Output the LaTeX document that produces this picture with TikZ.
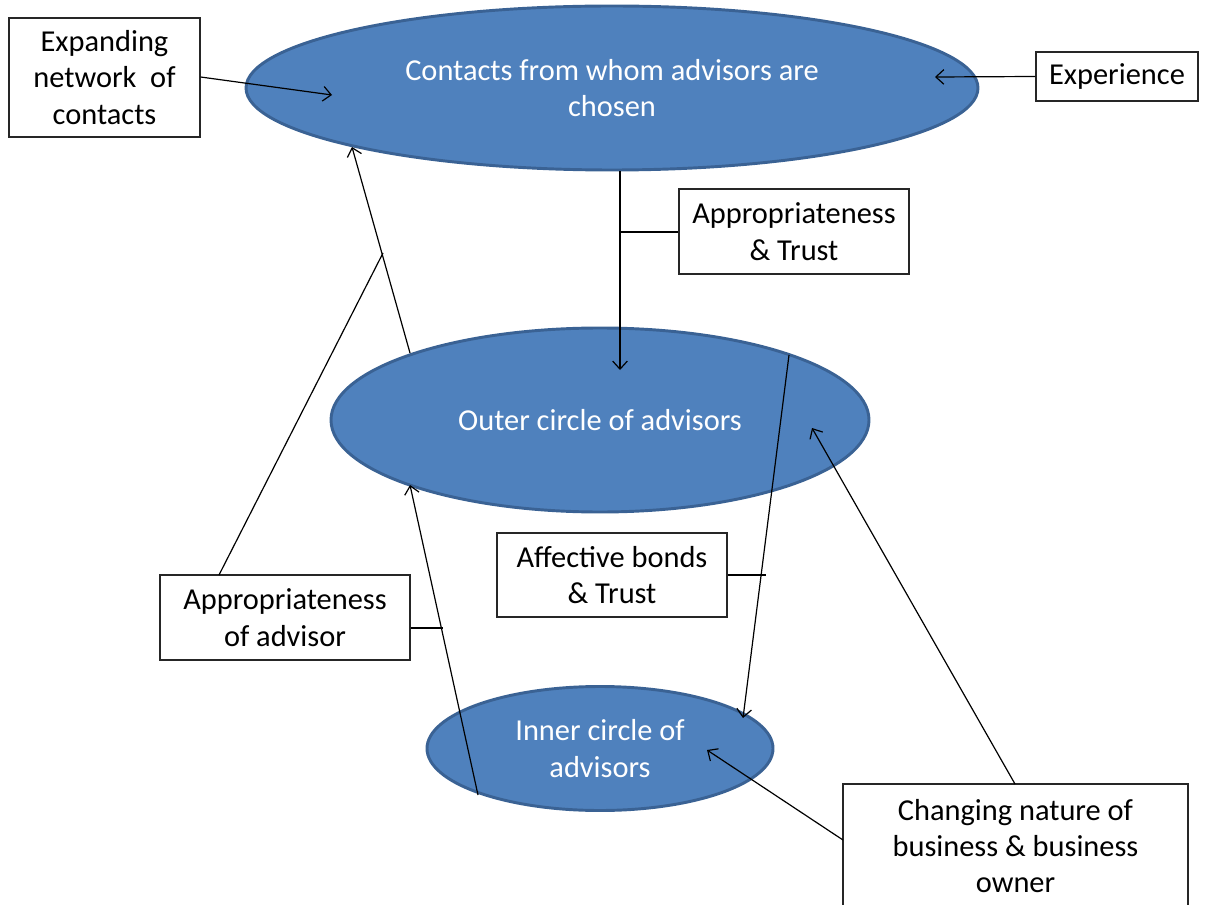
\documentclass[tikz,border=0pt]{standalone}
\usepackage{fontspec}
\setmainfont{Carlito}
\usetikzlibrary{shapes.geometric,arrows.meta}
\definecolor{bubble}{HTML}{4F81BD}
\definecolor{bubbleedge}{HTML}{3A6294}
\begin{document}
\begin{tikzpicture}[x=0.75pt,y=-0.75pt,
  bubble/.style={ellipse,fill=bubble,draw=bubbleedge,line width=2.2pt,inner sep=0pt,
    text=white,align=center,font=\fontsize{22.8}{27.3}\selectfont},
  label box/.style={rectangle,draw=black!85,fill=white,line width=0.9pt,inner sep=0pt,
    align=center,font=\fontsize{22.8}{27.3}\selectfont},
  size/.style 2 args={minimum width=#1*0.75pt,minimum height=#2*0.75pt},
  link/.style={draw=black,line width=0.9pt},
  arr/.style={link,-{Straight Barb[length=6pt,width=11pt,line width=0.9pt]}}]
\useasboundingbox (0,0) rectangle (1205,905);
\clip (0,0) rectangle (1205,905);

% the three circles of advisors
\node[bubble,size={732}{164}] (contacts) at (612,88)
  {Contacts from whom advisors are\\chosen};
\node[bubble,size={538}{184}] (outer) at (600,420)
  {Outer circle of advisors};
\node[bubble,size={346}{124}] (inner) at (600,748.5)
  {Inner circle of\\advisors};

% influencing factors
\node[label box,size={191}{119}] (network) at (104.5,77.5)
  {Expanding\\network\ \ of\\contacts};
\node[label box,size={162}{49}] (experience) at (1117,76.5)
  {Experience};
\node[label box,size={230}{85}] (apptrust) at (794,231.5)
  {Appropriateness\\\& Trust};
\node[label box,size={230}{84}] (affective) at (612,575)
  {Affective bonds\\\& Trust};
\node[label box,size={250}{85}] (appadvisor) at (285,617.5)
  {Appropriateness\\of advisor};
\node[label box,size={345}{124}] (changing) at (1015.5,846)
  {Changing nature of\\business \& business\\owner};

% end points of the connectors
\coordinate (netTip) at (332,95);
\coordinate (expTip) at (935,77);
\coordinate (downStart) at (620,171);
\coordinate (downTip) at (620,370);
\coordinate (downJoin) at (620,232);
\coordinate (upStart) at (410,353);
\coordinate (upTip) at (352,147);
\coordinate (upJoin) at (383,253);
\coordinate (advFoot) at (219,575);
\coordinate (riseStart) at (478,795);
\coordinate (riseTip) at (410,485);
\coordinate (riseJoin) at (443,628);
\coordinate (fallStart) at (789,355);
\coordinate (fallTip) at (743,718);
\coordinate (fallJoin) at (766,575);
\coordinate (chgTop) at (1015,784);
\coordinate (chgOuterTip) at (812,428);
\coordinate (chgLeft) at (843,840);
\coordinate (chgInnerTip) at (707,750);

% connectors
\draw[arr] (network.east |- 0,77) -- (netTip);
\draw[arr] (experience.west) -- (expTip);
\draw[arr] (downStart) -- (downTip);
\draw[link] (downJoin) -- (apptrust.west |- downJoin);
\draw[arr] (upStart) -- (upTip);
\draw[link] (advFoot) -- (upJoin);
\draw[arr] (riseStart) -- (riseTip);
\draw[link] (appadvisor.east |- riseJoin) -- (riseJoin);
\draw[arr] (fallStart) -- (fallTip);
\draw[link] (affective.east) -- (fallJoin);
\draw[arr] (chgTop) -- (chgOuterTip);
\draw[arr] (chgLeft) -- (chgInnerTip);
\end{tikzpicture}
\end{document}
